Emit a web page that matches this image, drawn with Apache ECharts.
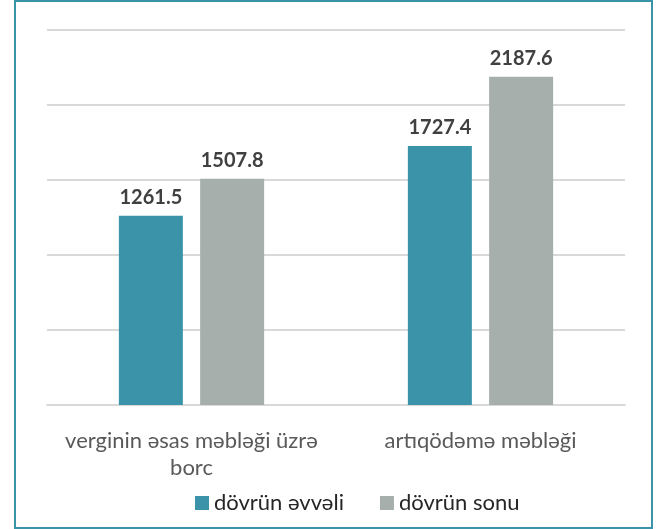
<!DOCTYPE html>
<html>
<head>
<meta charset="utf-8">
<script src="https://cdn.jsdelivr.net/npm/echarts@6/dist/echarts.min.js"></script>
<style>
  html, body { margin: 0; padding: 0; background: #fff; }
  #chart { position: absolute; left: 14px; top: 0; width: 639px; height: 529px;
           box-sizing: border-box; border: 2px solid #3a93a8; }
</style>
</head>
<body>
<div id="chart"></div>
<script>
var categories = ['verginin əsas məbləği üzrə\nborc', 'artıqödəmə məbləği'];
var seriesNames = ['dövrün əvvəli', 'dövrün sonu'];
var startValues = [1261.5, 1727.4];
var endValues = [1507.8, 2187.6];

var font = 'Lato, "Open Sans", sans-serif';
var chart = echarts.init(document.getElementById('chart'));

chart.setOption({
  animation: false,
  textStyle: { fontFamily: font },
  grid: { left: 31, right: 26, top: 28, bottom: 122 },
  legend: {
    top: 485,
    left: 174,
    itemWidth: 14,
    itemHeight: 14,
    itemGap: 36,
    icon: 'rect',
    textStyle: { fontSize: 22, color: '#262626', fontFamily: font },
    data: seriesNames
  },
  xAxis: {
    type: 'category',
    data: categories,
    axisTick: { show: false },
    axisLine: { lineStyle: { color: '#d9d9d9', width: 2 } },
    axisLabel: { interval: 0, fontSize: 22, color: '#595959', margin: 22, lineHeight: 27, fontFamily: font }
  },
  yAxis: {
    type: 'value',
    min: 0,
    max: 2500,
    interval: 500,
    axisLabel: { show: false },
    axisLine: { show: false },
    axisTick: { show: false },
    splitLine: { lineStyle: { color: '#d9d9d9', width: 2 } }
  },
  series: [
    {
      name: seriesNames[0],
      type: 'bar',
      data: startValues,
      barWidth: 64,
      barGap: '27%',
      itemStyle: { color: '#3a93a8' },
      label: { show: true, position: 'top', distance: 8, fontSize: 20, fontWeight: 'bold', color: '#404040', fontFamily: font }
    },
    {
      name: seriesNames[1],
      type: 'bar',
      data: endValues,
      barWidth: 64,
      itemStyle: { color: '#a6afac' },
      label: { show: true, position: 'top', distance: 8, fontSize: 20, fontWeight: 'bold', color: '#404040', fontFamily: font }
    }
  ]
});
</script>
</body>
</html>
